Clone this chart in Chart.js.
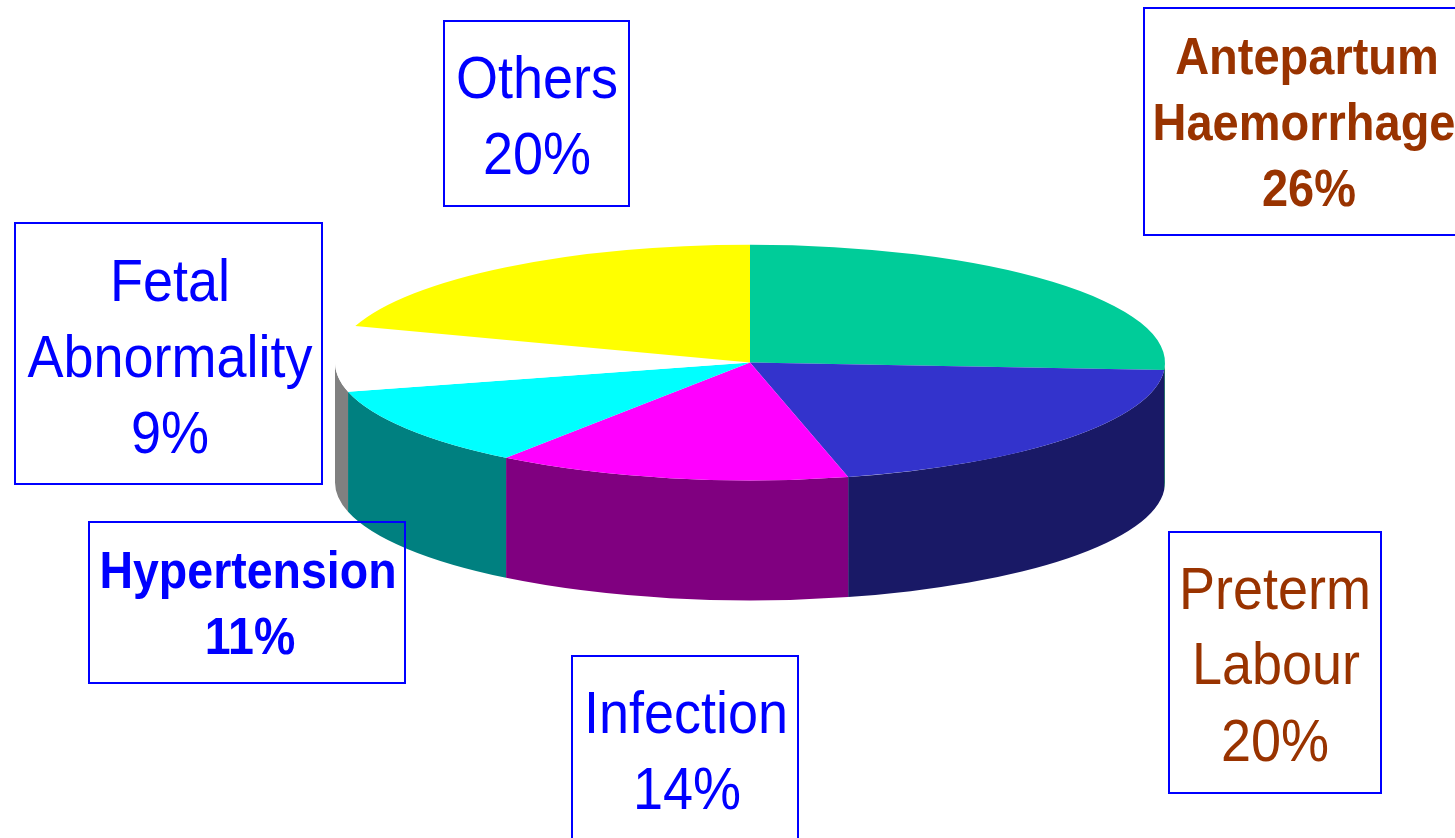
<!DOCTYPE html>
<html>
<head>
<meta charset="utf-8">
<title>Causes of preterm delivery</title>
<script src="https://cdn.jsdelivr.net/npm/chart.js@4"></script>
<style>
    html, body { margin: 0; padding: 0; background: #fff; overflow: hidden; }
    canvas { display: block; }
</style>
</head>
<body>
<canvas id="myChart" width="1455" height="838"></canvas>
<script>
// Data (the slices are a touch off the rounded labels)
const categories = ['Antepartum Haemorrhage', 'Preterm Labour', 'Infection', 'Hypertension', 'Fetal Abnormality', 'Others'];
const shares = [26, 20.2, 13.8, 11, 9, 20];
const topColors = ['#00CC99', '#3333CC', '#FF00FF', '#00FFFF', '#FFFFFF', '#FFFF00'];
const sideColors = ['#00664C', '#191966', '#800080', '#008080', '#808080', '#808000'];

// Geometry of the tilted disc
const PIE_RADIUS = 415;
const TILT = 0.284;
const DEPTH = 120;

// The label text in the picture is stretched vertically
const TEXT_STRETCH = 1.11;

// Label boxes: box in pixels, then one line per row with its centre and baseline
const BLUE = '#0000FF';
const BROWN = '#993300';
const labelBoxes = [
    { box: [1144, 8, 330, 227], color: BROWN, font: 'bold 47px', rows: [['Antepartum', 1307, 74], ['Haemorrhage', 1304, 140], ['26%', 1309, 206]] },
    { box: [444, 21, 185, 185], color: BLUE, font: '54px', rows: [['Others', 537, 98], ['20%', 537, 174]] },
    { box: [15, 223, 307, 261], color: BLUE, font: '54px', rows: [['Fetal', 170, 301], ['Abnormality', 170, 377], ['9%', 170, 453]] },
    { box: [89, 522, 316, 161], color: BLUE, font: 'bold 46.5px', rows: [['Hypertension', 248, 588], ['11%', 250, 654]] },
    { box: [572, 656, 226, 230], color: BLUE, font: '54px', rows: [['Infection', 686, 733], ['14%', 687, 809]] },
    { box: [1169, 532, 212, 261], color: BROWN, font: '54px', rows: [['Preterm', 1275, 609], ['Labour', 1276, 684], ['20%', 1275, 761]] }
];

// Draws the rim under each slice, then squashes the pie into an ellipse
const tiltedDisc = {
    id: 'tiltedDisc',
    beforeDatasetsDraw(chart) {
        const ctx = chart.ctx;
        chart.getDatasetMeta(0).data.forEach((arc, i) => {
            const from = Math.max(arc.startAngle, 0);
            const to = Math.min(arc.endAngle, Math.PI);
            if (to <= from) return;
            const rx = arc.outerRadius;
            const ry = rx * TILT;
            ctx.beginPath();
            ctx.ellipse(arc.x, arc.y, rx, ry, 0, from, to);
            ctx.ellipse(arc.x, arc.y + DEPTH, rx, ry, 0, to, from, true);
            ctx.closePath();
            ctx.fillStyle = sideColors[i];
            ctx.fill();
        });
        const { x, y } = chart.getDatasetMeta(0).data[0];
        ctx.save();
        ctx.translate(x, y);
        ctx.scale(1, TILT);
        ctx.translate(-x, -y);
    },
    afterDatasetsDraw(chart) {
        chart.ctx.restore();
    }
};

// Text boxes sit on top of the pie with no fill
const labelBoxPlugin = {
    id: 'labelBoxPlugin',
    afterDraw(chart) {
        const ctx = chart.ctx;
        ctx.save();
        labelBoxes.forEach(item => {
            ctx.strokeStyle = BLUE;
            ctx.lineWidth = 2;
            ctx.strokeRect(item.box[0], item.box[1], item.box[2], item.box[3]);
            ctx.fillStyle = item.color;
            ctx.font = item.font + ' "Liberation Sans", Arial, sans-serif';
            ctx.textAlign = 'center';
            ctx.textBaseline = 'alphabetic';
            item.rows.forEach(row => {
                ctx.save();
                ctx.translate(row[1], row[2]);
                ctx.scale(1, TEXT_STRETCH);
                ctx.fillText(row[0], 0, 0);
                ctx.restore();
            });
        });
        ctx.restore();
    }
};

new Chart(document.getElementById('myChart').getContext('2d'), {
    type: 'pie',
    data: {
        labels: categories,
        datasets: [{
            data: shares,
            backgroundColor: topColors,
            borderWidth: 0,
            clip: false
        }]
    },
    options: {
        responsive: false,
        animation: false,
        radius: PIE_RADIUS,
        layout: { padding: { left: 45, bottom: 113 } },
        plugins: {
            legend: { display: false },
            tooltip: { enabled: false }
        }
    },
    plugins: [tiltedDisc, labelBoxPlugin]
});
</script>
</body>
</html>
